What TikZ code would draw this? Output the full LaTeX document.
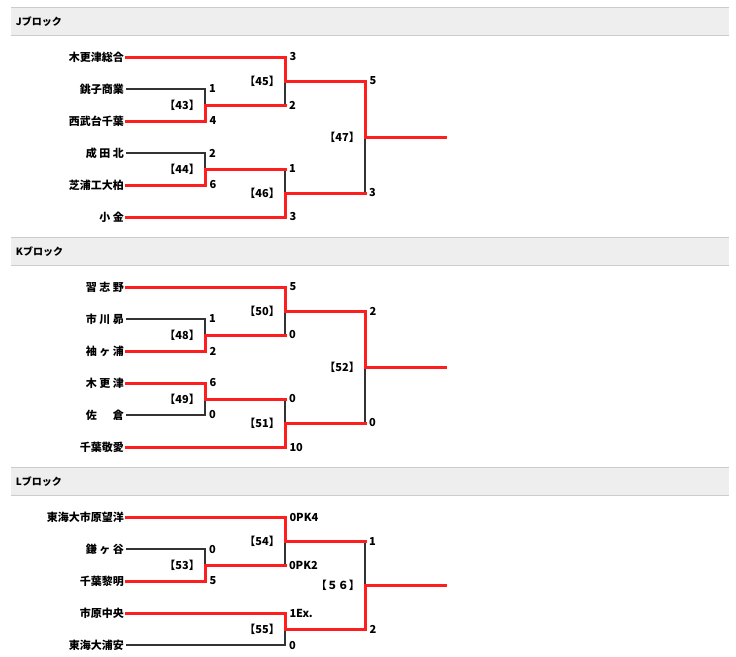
\documentclass[tikz,border=0pt]{standalone}
\usepackage{fontspec}
\setmainfont{Noto Sans CJK JP}
\usetikzlibrary{positioning}
\usepackage{xcolor}
\definecolor{winred}{HTML}{FF1E1E}
\definecolor{loseline}{HTML}{333333}
\definecolor{headfill}{HTML}{EEEEEE}
\definecolor{headrule}{HTML}{CCCCCC}

\tikzset{
    head/.style={fill=headfill, minimum height=27pt, text width=708pt,
        inner xsep=5pt, align=left, font=\fontsize{10}{11}\selectfont\bfseries},
    headrule/.style={draw=headrule, line width=1.2pt},
    team/.style={anchor=east, inner sep=2pt, font=\fontsize{11}{12}\selectfont\bfseries},
    score/.style={pos=0.5, anchor=west, inner sep=0pt, xshift=3pt,
        font=\fontsize{11}{12}\selectfont\bfseries},
    game/.style={inner sep=0pt, font=\fontsize{11}{12}\selectfont\bfseries},
    win/.style={draw=winred, line width=3pt, line cap=rect},
    lose/.style={draw=loseline, line width=2pt}
}

\begin{document}
\begin{tikzpicture}[x=1pt,y=-1pt]
    \useasboundingbox (0,0) rectangle (736,656);

    % J block
    \node[head] (hj) at (370,21.5) {Jブロック};
    \draw[headrule] (hj.north west) -- (hj.north east) (hj.south west) -- (hj.south east);
    \node[team] (j1) at (126,57) {木更津総合};
    \node[team] (j2) at (126,89) {銚子商業};
    \node[team] (j3) at (126,121) {西武台千葉};
    \node[team] (j4) at (126,153) {成 田 北};
    \node[team] (j5) at (126,185) {芝浦工大柏};
    \node[team] (j6) at (126,217) {小 金};
    \coordinate (m43) at (205,105);
    \coordinate (m44) at (205,169);
    \coordinate (m45) at (285,81);
    \coordinate (m46) at (285,193);
    \coordinate (m47) at (365,137);
    \coordinate (jend) at (445,137);
    \draw[lose] (j2.east) -| node[score]{1} (m43);
    \draw[lose] (j4.east) -| node[score]{2} (m44);
    \draw[lose] (m43) -| node[score]{2} (m45);
    \draw[lose] (m44) -| node[score]{1} (m46);
    \draw[lose] (m46) -| node[score]{3} (m47);
    \draw[win] (j3.east) -| node[score]{4} (m43) -- (m43 -| m45);
    \draw[win] (j5.east) -| node[score]{6} (m44) -- (m44 -| m46);
    \draw[win] (j6.east) -| node[score]{3} (m46) -- (m46 -| m47);
    \draw[win] (j1.east) -| node[score]{3} (m45) -| node[score]{5} (m47) -- (jend);
    \node[game, left=5pt of m43] (g43) {【43】};
    \node[game, left=5pt of m44] (g44) {【44】};
    \node[game, left=5pt of m45] (g45) {【45】};
    \node[game, left=5pt of m46] (g46) {【46】};
    \node[game, left=5pt of m47] (g47) {【47】};

    % K block
    \node[head] (hk) at (370,251.5) {Kブロック};
    \draw[headrule] (hk.north west) -- (hk.north east) (hk.south west) -- (hk.south east);
    \node[team] (k1) at (126,287) {習 志 野};
    \node[team] (k2) at (126,319) {市 川 昴};
    \node[team] (k3) at (126,351) {袖 ヶ 浦};
    \node[team] (k4) at (126,383) {木 更 津};
    \node[team] (k5) at (126,415) {佐 　 倉};
    \node[team] (k6) at (126,447) {千葉敬愛};
    \coordinate (m48) at (205,335);
    \coordinate (m49) at (205,399);
    \coordinate (m50) at (285,311);
    \coordinate (m51) at (285,423);
    \coordinate (m52) at (365,367);
    \coordinate (kend) at (445,367);
    \draw[lose] (k2.east) -| node[score]{1} (m48);
    \draw[lose] (k5.east) -| node[score]{0} (m49);
    \draw[lose] (m48) -| node[score]{0} (m50);
    \draw[lose] (m49) -| node[score]{0} (m51);
    \draw[lose] (m51) -| node[score]{0} (m52);
    \draw[win] (k3.east) -| node[score]{2} (m48) -- (m48 -| m50);
    \draw[win] (k4.east) -| node[score]{6} (m49) -- (m49 -| m51);
    \draw[win] (k6.east) -| node[score]{10} (m51) -- (m51 -| m52);
    \draw[win] (k1.east) -| node[score]{5} (m50) -| node[score]{2} (m52) -- (kend);
    \node[game, left=5pt of m48] (g48) {【48】};
    \node[game, left=5pt of m49] (g49) {【49】};
    \node[game, left=5pt of m50] (g50) {【50】};
    \node[game, left=5pt of m51] (g51) {【51】};
    \node[game, left=5pt of m52] (g52) {【52】};

    % L block
    \node[head] (hl) at (370,481.5) {Lブロック};
    \draw[headrule] (hl.north west) -- (hl.north east) (hl.south west) -- (hl.south east);
    \node[team] (l1) at (126,517) {東海大市原望洋};
    \node[team] (l2) at (126,549) {鎌 ヶ 谷};
    \node[team] (l3) at (126,581) {千葉黎明};
    \node[team] (l4) at (126,613) {市原中央};
    \node[team] (l5) at (126,645) {東海大浦安};
    \coordinate (m53) at (205,565);
    \coordinate (m54) at (285,541);
    \coordinate (m55) at (285,629);
    \coordinate (m56) at (365,585);
    \coordinate (lend) at (445,585);
    \draw[lose] (l2.east) -| node[score]{0} (m53);
    \draw[lose] (m53) -| node[score]{0PK2} (m54);
    \draw[lose] (l5.east) -| node[score]{0} (m55);
    \draw[lose] (m54) -| node[score]{1} (m56);
    \draw[win] (l3.east) -| node[score]{5} (m53) -- (m53 -| m54);
    \draw[win] (l1.east) -| node[score]{0PK4} (m54) -- (m54 -| m56);
    \draw[win] (l4.east) -| node[score]{1Ex.} (m55) -| node[score]{2} (m56) -- (lend);
    \node[game, left=5pt of m53] (g53) {【53】};
    \node[game, left=5pt of m54] (g54) {【54】};
    \node[game, left=5pt of m55] (g55) {【55】};
    \node[game, left=5pt of m56] (g56) {【５６】};
\end{tikzpicture}
\end{document}
